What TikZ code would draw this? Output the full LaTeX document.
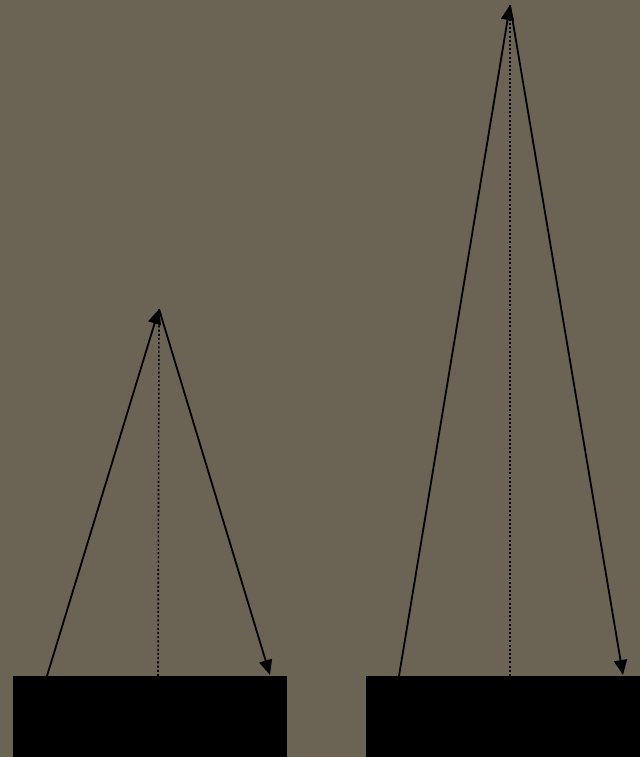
\documentclass[tikz,border=0pt]{standalone}
\usetikzlibrary{arrows.meta}
\definecolor{bg}{RGB}{107,99,84}
\tikzset{
  block/.style={fill=black, draw=none, minimum width=274pt, minimum height=81pt, inner sep=0pt, anchor=south west},
  ray/.style={line width=1.8pt, -{Triangle[length=15pt,width=13pt]}},
  plumb/.style={line width=1.6pt, dash pattern=on 2pt off 2.2pt}
}
\begin{document}
\begin{tikzpicture}[x=1pt,y=1pt]
\fill[bg] (0,0) rectangle (640,757);
\useasboundingbox (0,0) rectangle (640,757);
% blocks
\node[block] (L) at (13,0) {};
\node[block, minimum width=274pt] (R) at (366,0) {};
% left triangle
\coordinate (La) at (47,81);
\coordinate (Lt) at (159,448);
\coordinate (Lb) at (270,82);
\coordinate (Lf) at (158,81);
\draw[plumb] (Lf) -- ([yshift=-8pt]Lt);
\draw[ray] (La) -- (Lt);
\draw[ray] (Lt) -- (Lb);
% right triangle
\coordinate (Ra) at (399,81);
\coordinate (Rt) at (510,752);
\coordinate (Rb) at (623,82);
\coordinate (Rf) at (510,81);
\draw[plumb] (Rf) -- ([yshift=-8pt]Rt);
\draw[ray] (Ra) -- (Rt);
\draw[ray] (Rt) -- (Rb);
\end{tikzpicture}
\end{document}
